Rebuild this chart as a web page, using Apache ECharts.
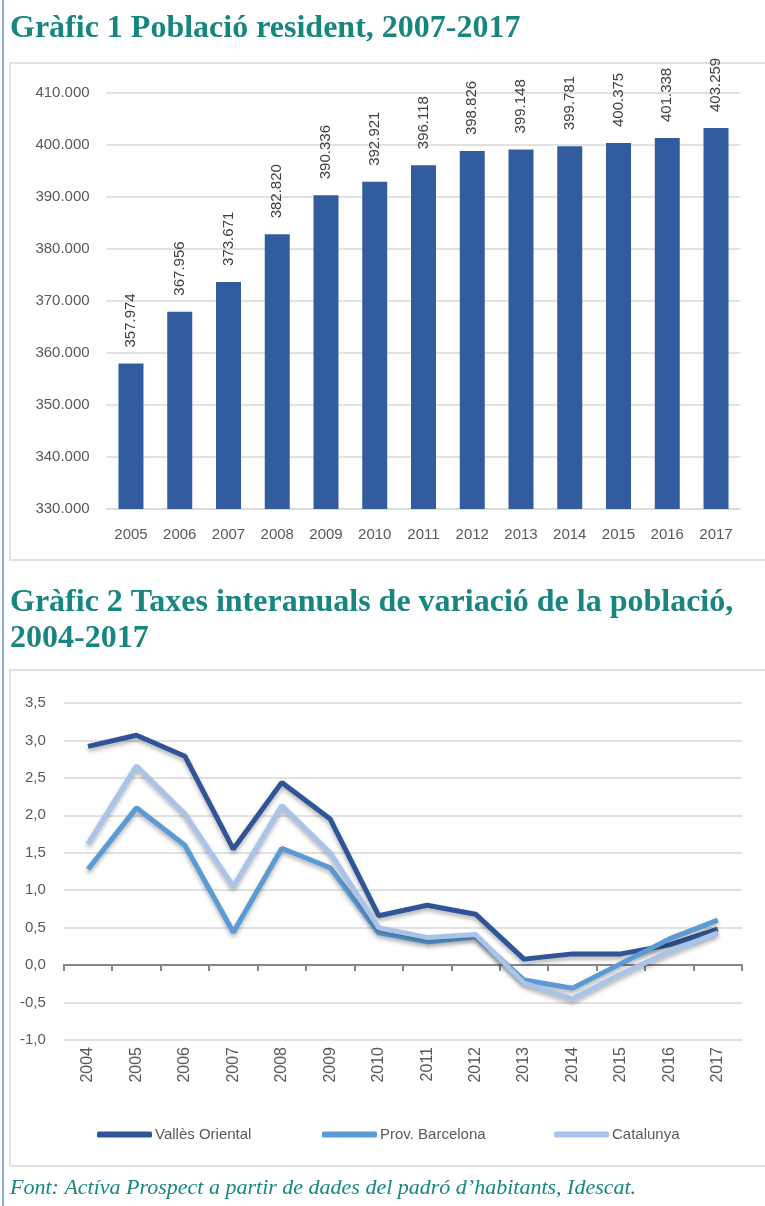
<!DOCTYPE html>
<html>
<head>
    <meta charset="utf-8">
    <script src="https://cdn.jsdelivr.net/npm/echarts@6/dist/echarts.min.js"></script>
    <style>
        html, body {
            margin: 0;
            padding: 0;
            background: #fff;
        }
    </style>
</head>
<body>
<div id="main" style="width:765px;height:1206px"></div>
<script>
    // Gràfic 1
    var anys1 = ['2005', '2006', '2007', '2008', '2009', '2010', '2011', '2012', '2013', '2014', '2015', '2016', '2017'];
    var poblacio = [357974, 367956, 373671, 382820, 390336, 392921, 396118, 398826, 399148, 399781, 400375, 401338, 403259];

    // Gràfic 2
    var anys2 = ['2004', '2005', '2006', '2007', '2008', '2009', '2010', '2011', '2012', '2013', '2014', '2015', '2016', '2017'];
    var vallesOriental = [2.92, 3.07, 2.79, 1.55, 2.44, 1.95, 0.66, 0.80, 0.68, 0.08, 0.15, 0.15, 0.27, 0.48];
    var provBarcelona = [1.28, 2.10, 1.60, 0.44, 1.56, 1.30, 0.43, 0.31, 0.38, -0.20, -0.31, 0.02, 0.35, 0.60];
    var catalunya = [1.62, 2.66, 2.02, 1.05, 2.13, 1.50, 0.50, 0.37, 0.41, -0.24, -0.45, -0.12, 0.18, 0.43];

    var teal = '#17867f';
    var narrow = '"Liberation Sans Narrow", "Liberation Sans", sans-serif';

    function milers(v) {
        return String(v).replace(/\B(?=(\d{3})+(?!\d))/g, '.');
    }

    var shadow = {shadowColor: 'rgba(0,0,0,0.3)', shadowBlur: 4, shadowOffsetY: 3};

    var myChart = echarts.init(document.getElementById('main'));
    var option = {
        animation: false,
        graphic: [
            {type: 'line', shape: {x1: 3, y1: 0, x2: 3, y2: 1206}, style: {stroke: '#8eaadb', lineWidth: 2}},
            {type: 'rect', shape: {x: 10, y: 63, width: 760, height: 497}, style: {fill: 'none', stroke: '#d9d9d9', lineWidth: 1.5}},
            {type: 'rect', shape: {x: 10, y: 670, width: 760, height: 496}, style: {fill: 'none', stroke: '#d9d9d9', lineWidth: 1.5}},
            {type: 'text', left: 10, top: 13, style: {text: 'Gràfic 1 Població resident, 2007-2017', fill: teal, font: 'bold 32px "Liberation Serif", serif'}},
            {type: 'text', left: 10, top: 585, style: {text: 'Gràfic 2 Taxes interanuals de variació de la població,\n2004-2017', fill: teal, font: 'bold 32px "Liberation Serif", serif', lineHeight: 36}},
            {type: 'text', left: 10, top: 1177, style: {text: 'Font: Actíva Prospect a partir de dades del padró d\u2019habitants, Idescat.', fill: teal, font: 'italic 22px "Liberation Serif", serif'}}
        ],
        legend: [
            {left: 92, top: 1122, itemWidth: 55, itemHeight: 6, icon: 'roundRect', itemGap: 0, data: ['Vallès Oriental'], textStyle: {color: '#595959', fontSize: 15, fontFamily: narrow, padding: [0, 0, 0, -2]}},
            {left: 317, top: 1122, itemWidth: 55, itemHeight: 6, icon: 'roundRect', itemGap: 0, data: ['Prov. Barcelona'], textStyle: {color: '#595959', fontSize: 15, fontFamily: narrow, padding: [0, 0, 0, -2]}},
            {left: 549, top: 1122, itemWidth: 55, itemHeight: 6, icon: 'roundRect', itemGap: 0, data: ['Catalunya'], textStyle: {color: '#595959', fontSize: 15, fontFamily: narrow, padding: [0, 0, 0, -2]}}
        ],
        grid: [
            {left: 106.6, right: 24.6, top: 93, height: 416},
            {left: 63.8, right: 23, top: 703, height: 337}
        ],
        xAxis: [
            {
                type: 'category', gridIndex: 0, data: anys1,
                axisLine: {lineStyle: {color: '#d9d9d9', width: 1.5}},
                axisTick: {show: false},
                axisLabel: {color: '#595959', fontSize: 15, fontFamily: narrow, margin: 18}
            },
            {
                type: 'category', gridIndex: 1, data: anys2,
                axisLine: {onZero: true, lineStyle: {color: '#868686', width: 2}},
                axisTick: {show: true, length: 6, lineStyle: {color: '#868686', width: 2}},
                axisLabel: {color: '#595959', fontSize: 16, fontFamily: '"Liberation Sans", sans-serif', rotate: 90, margin: 7}
            }
        ],
        yAxis: [
            {
                type: 'value', gridIndex: 0, min: 330000, max: 410000, interval: 10000,
                axisLine: {show: false}, axisTick: {show: false},
                splitLine: {lineStyle: {color: '#d9d9d9', width: 1.5}},
                axisLabel: {color: '#595959', fontSize: 15, fontFamily: narrow, margin: 17, formatter: milers}
            },
            {
                type: 'value', gridIndex: 1, min: -1, max: 3.5, interval: 0.5,
                axisLine: {show: false}, axisTick: {show: false},
                splitLine: {lineStyle: {color: '#d9d9d9', width: 1.5}},
                axisLabel: {color: '#595959', fontSize: 15, fontFamily: narrow, margin: 18, formatter: function (v) {
                    return v.toFixed(1).replace('.', ',');
                }}
            }
        ],
        series: [
            {
                name: 'Població', type: 'bar', xAxisIndex: 0, yAxisIndex: 0, data: poblacio,
                barWidth: 25,
                itemStyle: {color: '#335c9f'},
                label: {
                    show: true, position: 'top', rotate: 90, align: 'left', verticalAlign: 'middle', distance: 16,
                    color: '#404040', fontSize: 15, fontFamily: '"Liberation Sans", sans-serif',
                    formatter: function (p) { return milers(p.value); }
                }
            },
            {
                name: 'Vallès Oriental', type: 'line', xAxisIndex: 1, yAxisIndex: 1, data: vallesOriental,
                symbol: 'none', lineStyle: Object.assign({color: '#2f5597', width: 5}, shadow), itemStyle: {color: '#2f5597'}
            },
            {
                name: 'Prov. Barcelona', type: 'line', xAxisIndex: 1, yAxisIndex: 1, data: provBarcelona,
                symbol: 'none', lineStyle: Object.assign({color: '#5b9bd5', width: 5}, shadow), itemStyle: {color: '#5b9bd5'}
            },
            {
                name: 'Catalunya', type: 'line', xAxisIndex: 1, yAxisIndex: 1, data: catalunya,
                symbol: 'none', lineStyle: Object.assign({color: '#a9c4e8', width: 5}, shadow), itemStyle: {color: '#a9c4e8'}
            }
        ]
    };
    myChart.setOption(option);
</script>
</body>
</html>
